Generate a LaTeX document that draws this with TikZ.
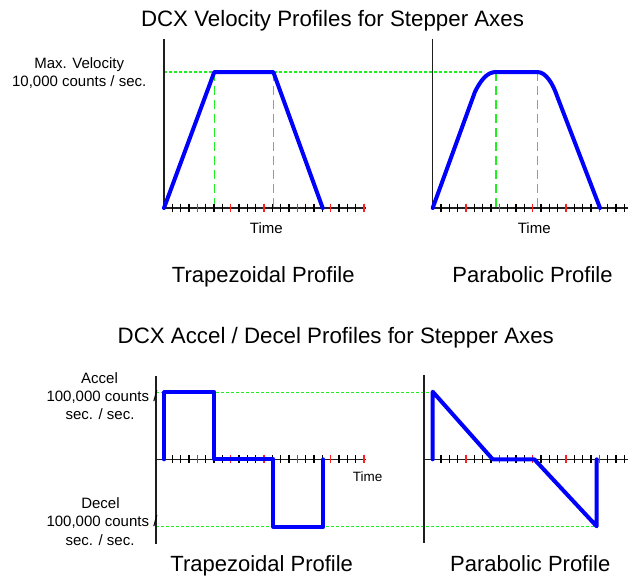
\documentclass[tikz,border=0pt]{standalone}
\usepackage{fontspec}
\setmainfont{Liberation Sans}
\definecolor{vblue}{RGB}{0,0,255}
\definecolor{ggreen}{RGB}{30,240,30}
\definecolor{tred}{RGB}{255,30,30}
\definecolor{axgray}{RGB}{30,30,30}
\begin{document}
\begin{tikzpicture}[x=1pt,y=-1pt,
  profile/.style={vblue,line width=4pt,line join=round,line cap=round},
  axisline/.style={axgray,line width=1.3pt},
  btick/.style={black,line width=1.3pt},
  rtick/.style={tred,line width=1.3pt},
  hdash/.style={ggreen,line width=1.1pt,dash pattern=on 3pt off 2pt},
  vdash/.style={ggreen,line width=1.6pt,dash pattern=on 9pt off 5pt},
  bigtxt/.style={inner sep=0pt,anchor=base,font=\fontsize{22}{26}\selectfont},
  titletxt/.style={inner sep=0pt,anchor=base,font=\fontsize{22.3}{26}\selectfont},
  smalltxt/.style={inner sep=0pt,anchor=base,font=\fontsize{15}{18}\selectfont},
  timetxt/.style={inner sep=0pt,anchor=base,font=\fontsize{13.5}{16}\selectfont}]
\fill[white] (0,0) rectangle (628,582);
\useasboundingbox (0,0) rectangle (628,582);

% titles
\node[titletxt] (t1) at (332.5,26) {DCX Velocity Profiles for Stepper Axes};
\node[titletxt] (t2) at (335.8,343.3) {DCX Accel / Decel Profiles for Stepper Axes};

% ---------- top-left: trapezoidal velocity ----------
\draw[hdash] (164,72) -- (484,72);
\draw[vdash] (214.3,72) -- (214.3,208);
\draw[vdash] (273.3,72) -- (273.3,208);
\draw[axisline] (164,39.3) -- (164,208);
\draw[axisline] (164,208) -- (366,208);
\foreach \k in {1,...,24} \draw[btick] ({164+8.333*\k},203.5) -- ({164+8.333*\k},211.5);
\foreach \k in {4,8,...,24} \draw[rtick] ({164+8.333*\k},203.5) -- ({164+8.333*\k},211.5);
\draw[profile] (164,208) -- (214.3,72) -- (273.3,72) -- (322.7,208);

% ---------- top-right: parabolic velocity ----------
\draw[vdash] (496,72) -- (496,208);
\draw[vdash] (537.3,72) -- (537.3,208);
\draw[axisline] (432.7,39.3) -- (432.7,208);
\draw[axisline] (432.7,208) -- (628,208);
\foreach \k in {1,...,23} \draw[btick] ({432.7+8.333*\k},203.5) -- ({432.7+8.333*\k},211.5);
\foreach \k in {4,8,...,20} \draw[rtick] ({432.7+8.333*\k},203.5) -- ({432.7+8.333*\k},211.5);
\draw[profile] (432.7,208) -- (475,91.7) .. controls (481,80) and (487,72) .. (496,72)
  -- (537.3,72) .. controls (546,72) and (553,84) .. (557.3,96.7) -- (600,208);

% labels top
\node[smalltxt] (mv1) at (79.2,68.3) {Max. Velocity};
\node[smalltxt] (mv2) at (79.2,86) {10,000 counts / sec.};
\node[smalltxt] (time1) at (266.3,233.3) {Time};
\node[smalltxt] (time2) at (534.2,233.3) {Time};
\node[bigtxt] (tp1) at (263.3,282.5) {Trapezoidal Profile};
\node[bigtxt] (pp1) at (532.5,282.5) {Parabolic Profile};

% ---------- bottom-left: trapezoidal accel ----------
\draw[hdash] (156,392.3) -- (432.7,392.3);
\draw[hdash] (156,526.7) -- (596.7,526.7);
\draw[axisline] (156,376) -- (156,544);
\draw[axisline] (156,459.3) -- (366,459.3);
\foreach \k in {1,...,24} \draw[btick] ({164+8.333*\k},454.8) -- ({164+8.333*\k},462.8);
\foreach \k in {4,8,...,24} \draw[rtick] ({164+8.333*\k},454.8) -- ({164+8.333*\k},462.8);
\draw[profile] (164.3,459.3) -- (164.3,392.3) -- (214.3,392.3) -- (214.3,459.3)
  -- (273.3,459.3) -- (273.3,526.7) -- (323.3,526.7) -- (323.3,459.3);

% ---------- bottom-right: parabolic accel ----------
\draw[axisline] (424,375) -- (424,543.3);
\draw[axisline] (424,459.3) -- (628,459.3);
\foreach \k in {1,...,23} \draw[btick] ({432.7+8.333*\k},454.8) -- ({432.7+8.333*\k},462.8);
\foreach \k in {4,8,...,20} \draw[rtick] ({432.7+8.333*\k},454.8) -- ({432.7+8.333*\k},462.8);
\draw[profile] (432.7,459.3) -- (432.7,391.7) -- (492.7,459.3) -- (534.3,459.3)
  -- (596.7,526.3) -- (596.7,459.3);

% labels bottom
\node[smalltxt] (acc1) at (99.5,383.3) {Accel};
\node[smalltxt] (acc2) at (102,401.7) {100,000 counts /};
\node[smalltxt] (acc3) at (100,419) {sec. / sec.};
\node[smalltxt] (dec1) at (100.5,508.3) {Decel};
\node[smalltxt] (dec2) at (102,526.7) {100,000 counts /};
\node[smalltxt] (dec3) at (100,545) {sec. / sec.};
\node[timetxt] (time3) at (367.7,481) {Time};
\node[bigtxt] (tp2) at (261.7,571.7) {Trapezoidal Profile};
\node[bigtxt] (pp2) at (530.3,571.7) {Parabolic Profile};
\end{tikzpicture}
\end{document}
